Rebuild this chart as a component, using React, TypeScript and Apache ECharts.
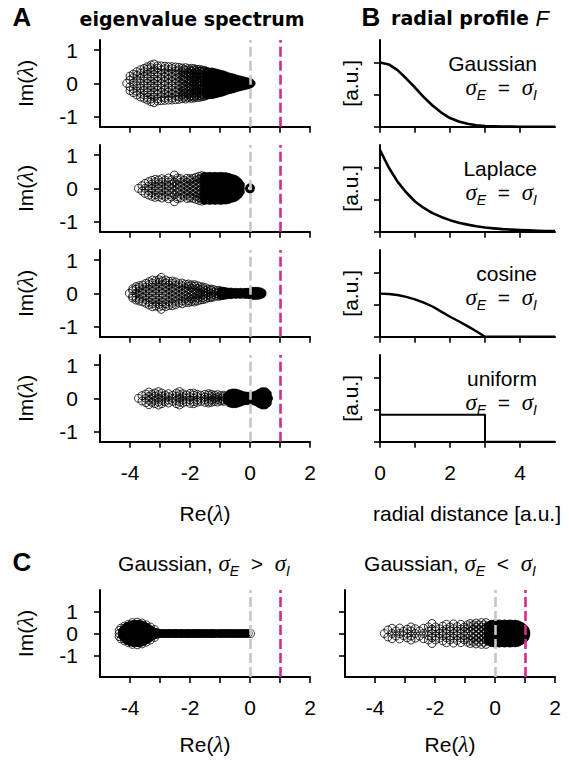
import React, { useEffect, useRef } from "react";
import * as echarts from "echarts";

type Col = [number, number[]];

// ---------- axes / ticks ----------
const reRange = [-5, 2];
const reTicks = [-4, -3, -2, -1, 0, 1, 2];
const reLabels = [-4, -2, 0, 2];
const imRangeA = [-1.3, 1.3];
const imRangeC = [-2, 2];
const imTicks = [-1, 0, 1];
const distRange = [0, 5];
const distTicks = [0, 1, 2, 3, 4];
const distLabels = [0, 2, 4];
const profRange = [0, 1.35];
const profTicks = [0, 0.5, 1];
const refLines = [0, 1]; // grey at Re=0, magenta at Re=1

// ---------- radial profiles (panel B) ----------
const profileX = [0, 0.25, 0.5, 0.75, 1, 1.25, 1.5, 1.75, 2, 2.25, 2.5, 2.75, 3, 3.25, 3.5, 3.75, 4, 4.25, 4.5, 4.75, 5];
const gaussProfile = [1.0, 0.97, 0.88, 0.75, 0.61, 0.46, 0.33, 0.22, 0.135, 0.08, 0.045, 0.023, 0.011, 0.005, 0.002, 0.001, 0, 0, 0, 0, 0];
const laplaceProfile = [1.27, 1.0, 0.78, 0.61, 0.47, 0.37, 0.29, 0.23, 0.18, 0.14, 0.11, 0.085, 0.066, 0.052, 0.04, 0.032, 0.025, 0.02, 0.015, 0.012, 0.009];
const cosineProfile = [0.67, 0.665, 0.65, 0.62, 0.58, 0.53, 0.47, 0.39, 0.31, 0.24, 0.165, 0.085, 0, 0, 0, 0, 0, 0, 0, 0, 0];
const uniformX = [0, 3, 3, 5];
const uniformProfile = [0.42, 0.42, 0, 0];
const profileNames = ["Gaussian", "Laplace", "cosine", "uniform"];

// ---------- eigenvalue clouds: [Re, Im>=0 list]; conjugates mirrored ----------
const gaussOpen: Col[] = [
  [-4.11, [0]], [-4.0, [0.1, 0.22]], [-3.89, [0, 0.17, 0.28]], [-3.77, [0.08, 0.24, 0.35]],
  [-3.65, [0, 0.15, 0.3, 0.41]], [-3.53, [0.07, 0.21, 0.35, 0.45]],
  [-3.42, [0, 0.14, 0.28, 0.42, 0.5]], [-3.3, [0.07, 0.2, 0.34, 0.47, 0.55]],
  [-3.2, [0, 0.13, 0.27, 0.41, 0.58]], [-3.08, [0.07, 0.2, 0.33, 0.46, 0.53]],
  [-2.96, [0, 0.14, 0.27, 0.4, 0.52]], [-2.84, [0.06, 0.19, 0.32, 0.44, 0.51]],
  [-2.72, [0, 0.13, 0.26, 0.38, 0.5]], [-2.6, [0.07, 0.2, 0.32, 0.44, 0.5]],
  [-2.48, [0, 0.13, 0.25, 0.37, 0.49]], [-2.37, [0.06, 0.18, 0.3, 0.41, 0.48]],
  [-2.26, [0, 0.12, 0.24, 0.35, 0.46]], [-2.2, [0.09, 0.2, 0.31, 0.42]], [-2.15, [0.06, 0.17, 0.28, 0.39, 0.47]],
  [-2.05, [0, 0.11, 0.22, 0.33, 0.44]], [-2.0, [0.08, 0.19, 0.3, 0.4]], [-1.95, [0.05, 0.16, 0.27, 0.37, 0.45]],
  [-1.86, [0, 0.1, 0.2, 0.3, 0.4, 0.44]], [-1.81, [0.08, 0.18, 0.28, 0.38]], [-1.77, [0.05, 0.15, 0.25, 0.34, 0.42]],
  [-1.68, [0, 0.1, 0.19, 0.28, 0.37, 0.42]], [-1.64, [0.07, 0.17, 0.27, 0.36]], [-1.6, [0.05, 0.14, 0.23, 0.32, 0.4]],
  [-1.52, [0, 0.09, 0.18, 0.27, 0.36, 0.39]],
];
const gaussFilled: Col[] = [
  [-1.45, [0, 0.1, 0.2, 0.3, 0.36]], [-1.36, [0.05, 0.15, 0.25, 0.34]], [-1.27, [0, 0.1, 0.2, 0.3, 0.34]],
  [-1.18, [0.05, 0.15, 0.25, 0.32]], [-1.09, [0, 0.1, 0.2, 0.3]], [-1.0, [0.05, 0.15, 0.24, 0.28]],
  [-0.91, [0, 0.1, 0.2, 0.26]], [-0.82, [0.05, 0.15, 0.23]], [-0.73, [0, 0.1, 0.2]],
  [-0.64, [0.05, 0.14, 0.18]], [-0.55, [0, 0.1, 0.16]], [-0.46, [0.05, 0.13]], [-0.37, [0, 0.08, 0.11]],
  [-0.28, [0.04, 0.09]], [-0.19, [0, 0.07]], [-0.1, [0.03, 0.05]], [-0.02, [0, 0.03]], [0.04, [0]],
];
const laplaceOpen: Col[] = [
  [-3.72, [0]], [-3.6, [0.08]], [-3.5, [0, 0.15]], [-3.38, [0.07, 0.2]], [-3.27, [0, 0.13, 0.24]],
  [-3.16, [0.07, 0.19, 0.27]], [-3.05, [0, 0.13, 0.25]], [-2.94, [0.06, 0.19, 0.29]], [-2.83, [0, 0.12, 0.25]],
  [-2.72, [0.07, 0.19, 0.31]], [-2.61, [0, 0.13, 0.26]], [-2.52, [0.06, 0.19, 0.4]], [-2.42, [0, 0.12, 0.25, 0.31]],
  [-2.31, [0.06, 0.18, 0.29]], [-2.2, [0, 0.12, 0.24]], [-2.1, [0.06, 0.18, 0.3]], [-2.0, [0, 0.12, 0.24, 0.29]],
  [-1.9, [0.06, 0.18, 0.3]], [-1.8, [0, 0.12, 0.24, 0.33]], [-1.7, [0.06, 0.17, 0.28, 0.36]],
  [-1.61, [0, 0.11, 0.22, 0.32, 0.38]],
];
const laplaceFilled: Col[] = [
  [-1.52, [0, 0.1, 0.2, 0.3, 0.36]], [-1.43, [0.05, 0.15, 0.25, 0.35]], [-1.34, [0, 0.1, 0.2, 0.3, 0.36]],
  [-1.25, [0.05, 0.15, 0.25, 0.35]], [-1.16, [0, 0.1, 0.2, 0.3, 0.36]], [-1.07, [0.05, 0.15, 0.25, 0.35]],
  [-0.98, [0, 0.1, 0.2, 0.3, 0.36]], [-0.89, [0.05, 0.15, 0.25, 0.35]], [-0.8, [0, 0.1, 0.2, 0.3, 0.35]],
  [-0.71, [0.05, 0.15, 0.25, 0.33]], [-0.62, [0, 0.1, 0.2, 0.3]], [-0.53, [0.05, 0.15, 0.25, 0.28]],
  [-0.45, [0, 0.1, 0.2, 0.24]], [-0.38, [0.05, 0.15, 0.18]], [-0.32, [0, 0.1]],
];
const laplaceZero: Col[] = [[0, [0]]];
const cosineOpen: Col[] = [
  [-4.02, [0]], [-3.91, [0.08, 0.14]], [-3.8, [0, 0.12, 0.2]], [-3.69, [0.06, 0.17, 0.23]], [-3.58, [0, 0.12, 0.25]],
  [-3.47, [0.07, 0.19, 0.3]], [-3.36, [0, 0.13, 0.26, 0.35]], [-3.25, [0.06, 0.19, 0.31, 0.4]],
  [-3.14, [0, 0.13, 0.26, 0.38]], [-3.03, [0.07, 0.2, 0.33, 0.41]], [-2.96, [0.48]], [-2.92, [0, 0.13, 0.26, 0.37]],
  [-2.81, [0.06, 0.19, 0.31, 0.4]], [-2.7, [0, 0.12, 0.25, 0.36]], [-2.59, [0.06, 0.18, 0.3, 0.37]],
  [-2.48, [0, 0.12, 0.24, 0.34]], [-2.37, [0.06, 0.18, 0.29]], [-2.26, [0, 0.12, 0.23, 0.31]],
  [-2.15, [0.06, 0.17, 0.27]], [-2.05, [0, 0.11, 0.22, 0.28]], [-1.95, [0.05, 0.16, 0.25]],
  [-1.85, [0, 0.11, 0.21, 0.26]], [-1.75, [0.05, 0.15, 0.23]], [-1.66, [0, 0.1, 0.2]], [-1.57, [0.05, 0.14, 0.19]],
  [-1.48, [0, 0.09, 0.17]], [-1.39, [0.04, 0.13]], [-1.3, [0, 0.09, 0.13]], [-1.21, [0.04, 0.11]],
  [-1.12, [0, 0.08]], [-1.04, [0.04, 0.09]],
];
const cosineFilled: Col[] = [
  [-0.96, [0, 0.07]], [-0.88, [0.04, 0.06]], [-0.8, [0, 0.05]], [-0.72, [0.03]], [-0.64, [0, 0.04]],
  [-0.56, [0.02]], [-0.48, [0, 0.03]], [-0.4, [0.02]], [-0.32, [0, 0.03]], [-0.24, [0.02]], [-0.16, [0, 0.03]],
  [-0.08, [0.03]], [0.0, [0, 0.04]], [0.08, [0.02, 0.06]], [0.16, [0, 0.06]], [0.24, [0.03, 0.06]],
  [0.32, [0, 0.05]], [0.4, [0.02]],
];
const uniformOpen: Col[] = [
  [-3.72, [0]], [-3.6, [0.08]], [-3.47, [0, 0.13]], [-3.37, [0.06, 0.19]], [-3.27, [0, 0.12]],
  [-3.17, [0.06, 0.16]], [-3.05, [0, 0.11, 0.2]], [-2.94, [0.06, 0.16]], [-2.83, [0, 0.1]], [-2.72, [0.05, 0.14]],
  [-2.58, [0, 0.09]], [-2.45, [0.06, 0.16]], [-2.35, [0, 0.11, 0.2]], [-2.24, [0.05, 0.14]], [-2.12, [0, 0.1]],
  [-2.0, [0.05, 0.15]], [-1.88, [0, 0.1, 0.16]], [-1.76, [0.05, 0.12]], [-1.64, [0, 0.09]], [-1.5, [0.04, 0.12]],
  [-1.38, [0, 0.09, 0.14]], [-1.28, [0.05, 0.12]], [-1.18, [0, 0.09]], [-1.08, [0.04, 0.11]], [-0.98, [0, 0.08]],
  [-0.88, [0.05, 0.09]],
];
const uniformFilled: Col[] = [
  [-0.76, [0, 0.07]], [-0.67, [0.04, 0.11, 0.14]], [-0.58, [0, 0.09, 0.16]], [-0.49, [0.05, 0.13, 0.16]],
  [-0.4, [0, 0.09, 0.14]], [-0.31, [0.05, 0.11]], [-0.22, [0, 0.08]], [-0.13, [0.04, 0.07]], [-0.04, [0, 0.06]],
  [0.05, [0.03, 0.07]], [0.14, [0, 0.08]], [0.23, [0.04, 0.11]], [0.32, [0, 0.09, 0.16]], [0.41, [0.05, 0.13, 0.2]],
  [0.5, [0, 0.1, 0.2]], [0.58, [0.05, 0.14]], [0.62, [0]],
];
// panel C, sigma_E > sigma_I
const cLeftFilled: Col[] = [
  [-4.25, [0, 0.12]], [-4.16, [0.06, 0.18, 0.26]], [-4.07, [0, 0.12, 0.24, 0.33]], [-3.98, [0.06, 0.18, 0.3, 0.38]],
  [-3.89, [0, 0.12, 0.24, 0.36, 0.42]], [-3.8, [0.06, 0.18, 0.3, 0.42]], [-3.71, [0, 0.12, 0.24, 0.36, 0.43]],
  [-3.62, [0.06, 0.18, 0.3, 0.4]], [-3.53, [0, 0.12, 0.24, 0.35]], [-3.44, [0.06, 0.18, 0.28]],
  [-3.35, [0, 0.12, 0.2]], [-3.26, [0.06, 0.12]], [-3.17, [0, 0.06]], [-3.08, [0.03]],
  [-3.02, [0]], [-2.96, [0]], [-2.88, [0]], [-2.82, [0]], [-2.73, [0]], [-2.68, [0]], [-2.6, [0]], [-2.52, [0]],
  [-2.47, [0]], [-2.39, [0]], [-2.31, [0]], [-2.26, [0]], [-2.18, [0]], [-2.1, [0]], [-2.05, [0]], [-1.97, [0]],
  [-1.9, [0]], [-1.82, [0]], [-1.77, [0]], [-1.7, [0]], [-1.63, [0]], [-1.55, [0]], [-1.49, [0]], [-1.41, [0]],
  [-1.33, [0]], [-1.26, [0]], [-1.2, [0]], [-1.05, [0]], [-0.97, [0]], [-0.84, [0]], [-0.76, [0]], [-0.62, [0]],
  [-0.55, [0]], [-0.41, [0]], [-0.33, [0]], [-0.2, [0]], [-0.12, [0]],
];
const cLeftOpen: Col[] = [
  [-4.36, [0, 0.14]], [-4.3, [0.25]], [-4.18, [0.34]], [-4.05, [0.42]], [-3.92, [0.5]], [-3.76, [0.52]],
  [-3.6, [0.48]], [-3.46, [0.4]], [-3.32, [0.3]], [-3.18, [0.18]],
  [-1.12, [0]], [-0.9, [0]], [-0.7, [0]], [-0.47, [0]], [-0.26, [0]], [-0.06, [0]], [0.02, [0]],
];
// panel C, sigma_E < sigma_I
const cRightOpen: Col[] = [
  [-3.69, [0]], [-3.57, [0.16]], [-3.43, [0, 0.24]], [-3.3, [0.12]], [-3.18, [0, 0.25]], [-3.05, [0.1]],
  [-2.93, [0, 0.2]], [-2.8, [0.12, 0.3]], [-2.66, [0, 0.22]], [-2.52, [0.12]], [-2.38, [0, 0.24]],
  [-2.22, [0.1, 0.3]], [-2.1, [0, 0.2, 0.46]], [-1.98, [0.12, 0.3]], [-1.86, [0, 0.22]], [-1.74, [0.1, 0.34]],
  [-1.62, [0, 0.2, 0.42]], [-1.5, [0.12, 0.3]], [-1.38, [0, 0.22, 0.44]], [-1.26, [0.1, 0.32]],
  [-1.14, [0, 0.2, 0.42]], [-1.02, [0.1, 0.3]], [-0.92, [0, 0.22, 0.4]], [-0.82, [0.1, 0.32, 0.46]],
  [-0.72, [0, 0.2, 0.4]], [-0.63, [0.1, 0.3, 0.48]], [-0.54, [0, 0.2, 0.4]], [-0.45, [0.1, 0.3, 0.5]],
  [-0.37, [0, 0.2, 0.4]], [-0.3, [0.1, 0.3, 0.5]],
];
const cRightFilled: Col[] = [
  [-0.22, [0, 0.12, 0.24, 0.36]], [-0.13, [0.06, 0.18, 0.3, 0.41]], [-0.04, [0, 0.12, 0.24, 0.36, 0.43]],
  [0.05, [0.06, 0.18, 0.3, 0.42]], [0.14, [0, 0.12, 0.24, 0.36, 0.44]], [0.23, [0.06, 0.18, 0.3, 0.42]],
  [0.32, [0, 0.12, 0.24, 0.36, 0.44]], [0.41, [0.06, 0.18, 0.3, 0.42]], [0.5, [0, 0.12, 0.24, 0.36, 0.44]],
  [0.59, [0.06, 0.18, 0.3, 0.42]], [0.68, [0, 0.12, 0.24, 0.36, 0.43]], [0.77, [0.06, 0.18, 0.3, 0.4]],
  [0.86, [0, 0.12, 0.24, 0.34]], [0.94, [0.06, 0.18, 0.27]], [1.0, [0, 0.12, 0.18]], [1.03, [0.06]],
];

// ---------- styling ----------
const FONT = '"Liberation Sans", Arial, sans-serif';
const TFONT = '"DejaVu Sans", sans-serif';
const SERIF = '"Liberation Serif", serif';
const GREY = "#c6c6c6";
const MAGENTA = "#d62a8e";
const FS = 21;

const conj = (cols: Col[]) => {
  const pts: number[][] = [];
  cols.forEach(([re, ims]) =>
    ims.forEach((im) => {
      pts.push([re, im]);
      if (im !== 0) pts.push([re, -im]);
    })
  );
  return pts;
};

const rich = {
  n: { fontFamily: FONT, fontSize: FS, color: "#000", lineHeight: 30 },
  m: { fontFamily: SERIF, fontStyle: "italic", fontSize: FS + 2, color: "#000", lineHeight: 30 },
  s: { fontFamily: FONT, fontStyle: "italic", fontSize: 14, color: "#000", lineHeight: 14, verticalAlign: "bottom" },
  b: { fontFamily: TFONT, fontWeight: "bold", fontSize: 19, color: "#000", lineHeight: 24 },
  f: { fontFamily: FONT, fontStyle: "italic", fontSize: 22, color: "#000", lineHeight: 24 },
  p: { fontFamily: FONT, fontSize: FS, color: "#000", lineHeight: 22 },
};

const txt = (x: number, y: number, text: string, align = "center", rotation = 0) => ({
  type: "text",
  x,
  y,
  rotation,
  silent: true,
  style: {
    text,
    rich,
    fill: "#000",
    font: `${FS}px ${FONT}`,
    align,
    textAlign: align,
    verticalAlign: "middle",
    textVerticalAlign: "middle",
  },
});
const bigTxt = (x: number, y: number, text: string, size: number, family = FONT) => ({
  type: "text",
  x,
  y,
  silent: true,
  style: {
    text,
    fill: "#000",
    font: `bold ${size}px ${family}`,
    align: "center",
    textAlign: "center",
    verticalAlign: "middle",
    textVerticalAlign: "middle",
  },
});

export default function App() {
  const ref = useRef<HTMLDivElement>(null);
  useEffect(() => {
    document.body.style.margin = "0";
    if (!ref.current) return;
    const chart = echarts.init(ref.current, null, { renderer: "svg", width: 569, height: 762 });

    const rowTops = [40, 145, 250, 355];
    const rowH = 86.7;
    const grids: any[] = [];
    const xAxes: any[] = [];
    const yAxes: any[] = [];
    const series: any[] = [];

    const axisLine = { show: true, onZero: false, lineStyle: { color: "#000", width: 2 } };
    const tickStyle = { color: "#000", width: 1.6 };
    const lab = (show: boolean, values: number[], margin: number) => ({
      show,
      customValues: values,
      fontSize: FS,
      fontFamily: FONT,
      color: "#000",
      margin,
    });

    const reAxis = (gi: number, showLabels: boolean) => ({
      gridIndex: gi, type: "value", min: reRange[0], max: reRange[1],
      axisLine, axisTick: { show: true, customValues: reTicks, length: 6, lineStyle: tickStyle },
      axisLabel: lab(showLabels, reLabels, 20), splitLine: { show: false },
    });
    const imAxis = (gi: number, range: number[], showLabels: boolean) => ({
      gridIndex: gi, type: "value", min: range[0], max: range[1],
      axisLine, axisTick: { show: true, customValues: imTicks, length: 6, lineStyle: tickStyle },
      axisLabel: lab(showLabels, imTicks, 22), splitLine: { show: false },
    });

    const addCloud = (gi: number, open: Col[], filled: Col[], extra?: Col[]) => {
      series.push({
        type: "scatter", xAxisIndex: gi, yAxisIndex: gi, data: [], z: 1, silent: true,
        markLine: {
          silent: true, symbol: ["none", "none"], label: { show: false }, animation: false,
          lineStyle: { type: [10, 4], width: 2.6 },
          data: [
            { xAxis: refLines[0], lineStyle: { color: GREY, type: [10, 4], width: 2.6 } },
            { xAxis: refLines[1], lineStyle: { color: MAGENTA, type: [10, 4], width: 2.6 } },
          ],
        },
      });
      series.push({
        type: "scatter", xAxisIndex: gi, yAxisIndex: gi, data: conj(open), z: 3, silent: true,
        symbol: "circle", symbolSize: 8,
        itemStyle: { color: "rgba(0,0,0,0)", borderColor: "#000", borderWidth: 0.8, opacity: 1 },
      });
      series.push({
        type: "scatter", xAxisIndex: gi, yAxisIndex: gi, data: conj(filled), z: 3, silent: true,
        symbol: "circle", symbolSize: 8,
        itemStyle: { color: "#000", borderColor: "#000", borderWidth: 0.8, opacity: 1 },
      });
      if (extra) {
        series.push({
          type: "scatter", xAxisIndex: gi, yAxisIndex: gi, data: conj(extra), z: 4, silent: true,
          symbol: "circle", symbolSize: 7,
          itemStyle: { color: "rgba(0,0,0,0)", borderColor: "#000", borderWidth: 3, opacity: 1 },
        });
      }
    };

    // Panel A (grids 0-3)
    const clouds: [Col[], Col[], Col[] | undefined][] = [
      [gaussOpen, gaussFilled, undefined],
      [laplaceOpen, laplaceFilled, laplaceZero],
      [cosineOpen, cosineFilled, undefined],
      [uniformOpen, uniformFilled, undefined],
    ];
    rowTops.forEach((top, i) => {
      grids.push({ left: 100, top, width: 210, height: rowH });
      xAxes.push(reAxis(i, i === 3));
      yAxes.push(imAxis(i, imRangeA, true));
      addCloud(i, clouds[i][0], clouds[i][1], clouds[i][2]);
    });

    // Panel B (grids 4-7)
    const profiles = [
      { x: profileX, y: gaussProfile, w: 2.6 },
      { x: profileX, y: laplaceProfile, w: 2.6 },
      { x: profileX, y: cosineProfile, w: 2.4 },
      { x: uniformX, y: uniformProfile, w: 2 },
    ];
    rowTops.forEach((top, i) => {
      const gi = 4 + i;
      grids.push({ left: 380, top, width: 175, height: rowH });
      xAxes.push({
        gridIndex: gi, type: "value", min: distRange[0], max: distRange[1],
        axisLine, axisTick: { show: true, customValues: distTicks, length: 6, lineStyle: tickStyle },
        axisLabel: lab(i === 3, distLabels, 20), splitLine: { show: false },
      });
      yAxes.push({
        gridIndex: gi, type: "value", min: profRange[0], max: profRange[1],
        axisLine, axisTick: { show: true, customValues: profTicks, length: 6, lineStyle: tickStyle },
        axisLabel: { show: false }, splitLine: { show: false },
      });
      const p = profiles[i];
      series.push({
        type: "line", xAxisIndex: gi, yAxisIndex: gi, silent: true, z: 3,
        data: p.x.map((x, k) => [x, p.y[k]]),
        showSymbol: false, symbol: "none", smooth: false,
        lineStyle: { color: "#000", width: p.w, join: "round" },
      });
    });

    // Panel C (grids 8-9)
    grids.push({ left: 100, top: 590, width: 210, height: 87 });
    xAxes.push(reAxis(8, true));
    yAxes.push(imAxis(8, imRangeC, true));
    addCloud(8, cLeftOpen, cLeftFilled);
    grids.push({ left: 345, top: 590, width: 210, height: 87 });
    xAxes.push(reAxis(9, true));
    yAxes.push(imAxis(9, imRangeC, false));
    addCloud(9, cRightOpen, cRightFilled);

    // Text annotations
    const graphic: any[] = [
      bigTxt(22, 17, "A", 26),
      bigTxt(192, 19, "eigenvalue spectrum", 19, TFONT),
      bigTxt(371, 17, "B", 26),
      txt(470, 18, "{b|radial profile }{f|F}"),
      bigTxt(22, 562, "C", 26),
      txt(204, 563, "{n|Gaussian, }{m|σ}{s|E}{n|  >  }{m|σ}{s|I}"),
      txt(450, 563, "{n|Gaussian, }{m|σ}{s|E}{n|  <  }{m|σ}{s|I}"),
      txt(205, 513, "{n|Re(}{m|λ}{n|)}"),
      txt(467, 513, "{n|radial distance [a.u.]}"),
      txt(205, 744, "{n|Re(}{m|λ}{n|)}"),
      txt(450, 744, "{n|Re(}{m|λ}{n|)}"),
      txt(25, 633.5, "{n|Im(}{m|λ}{n|)}", "center", Math.PI / 2),
    ];
    rowTops.forEach((top, i) => {
      const mid = top + rowH / 2;
      graphic.push(txt(25, mid, "{n|Im(}{m|λ}{n|)}", "center", Math.PI / 2));
      graphic.push(txt(350, mid, "{n|[a.u.]}", "center", Math.PI / 2));
      graphic.push(txt(537, top + 23.5, `{p|${profileNames[i]}}`, "right"));
      graphic.push(txt(537, top + 47, "{m|σ}{s|E}{n|  =  }{m|σ}{s|I}", "right"));
    });

    chart.setOption({
      animation: false,
      backgroundColor: "#fff",
      grid: grids,
      xAxis: xAxes,
      yAxis: yAxes,
      series,
      graphic: { elements: graphic },
    });
    return () => chart.dispose();
  }, []);
  return <div ref={ref} style={{ width: 569, height: 762 }} />;
}
